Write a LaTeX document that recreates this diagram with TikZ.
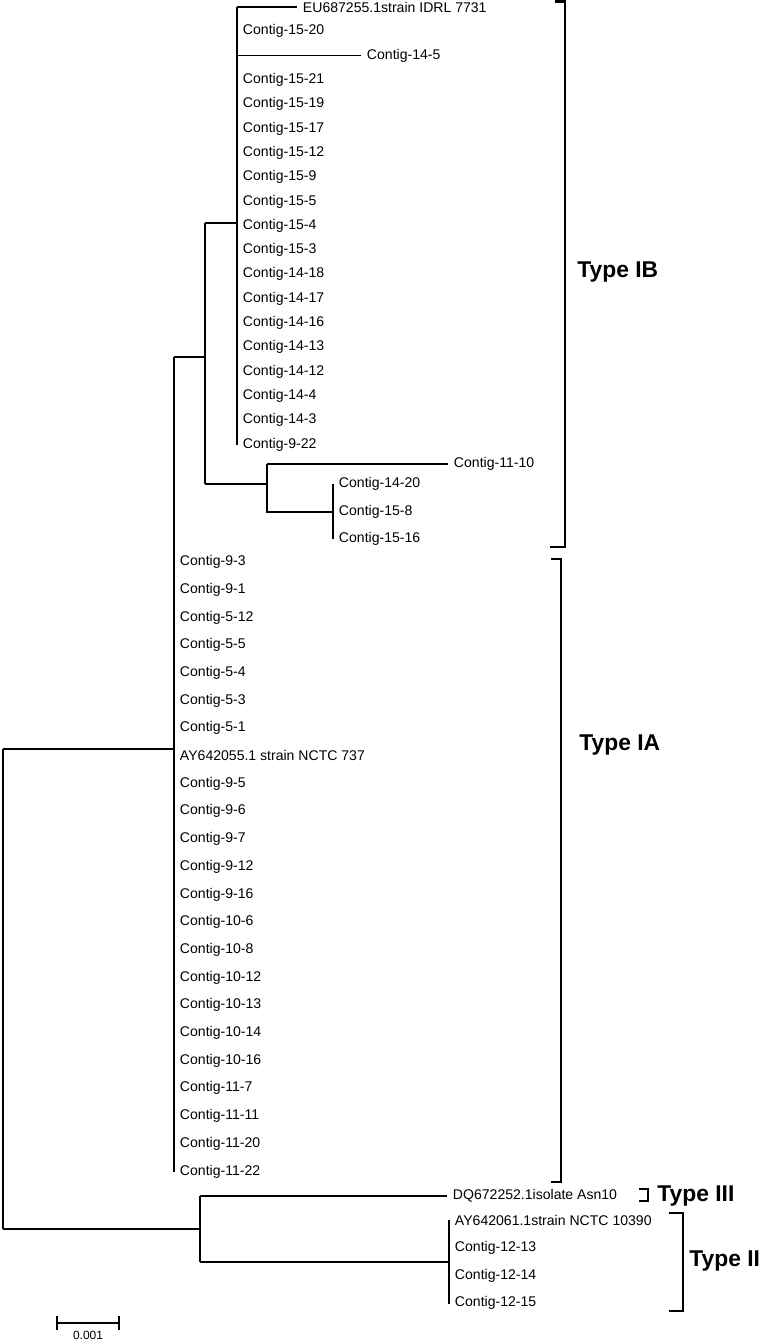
\documentclass[tikz,border=0pt]{standalone}
\usepackage{fontspec}
\setmainfont{Liberation Sans}
\usetikzlibrary{positioning}

\tikzset{
  branch/.style={line width=0.7pt},
  clade/.style={line width=1.2pt},
  leaf/.style={anchor=west, inner sep=1pt, inner xsep=3.2pt, font=\fontsize{8}{9}\selectfont},
  typelab/.style={anchor=west, inner sep=0pt, font=\fontsize{13}{15}\selectfont\bfseries},
}

\begin{document}
\begin{tikzpicture}[x=0.02cm, y=-0.02cm]
	\useasboundingbox (0,0) rectangle (761,1341);
	
	%row spacing of the two halves of the tree
	\pgfmathsetmacro{\rowb}{24.3}
	\pgfmathsetmacro{\rowa}{27.7}
	
	\begin{scope}
		% Type IB
		\coordinate (ibtop) at (237,7);
		\coordinate (ibbot) at (237,445);
		\draw[clade] (ibtop) -- (ibbot);
		\node[leaf] (eu) at (297,7) {EU687255.1strain IDRL 7731};
		\node[leaf] (c14-5) at (361,{7+2*\rowb}) {Contig-14-5};
		\draw[branch] (ibtop) -- (eu.west);
		\draw[branch] (237,{7+2*\rowb}) -- (c14-5.west);
		\foreach \n/\i in {15-20/1, 15-21/3, 15-19/4, 15-17/5, 15-12/6, 15-9/7, 15-5/8, 15-4/9, 15-3/10,
			14-18/11, 14-17/12, 14-16/13, 14-13/14, 14-12/15, 14-4/16, 14-3/17, 9-22/18}
		\node[leaf] (c\n) at (237,{7+\rowb*\i}) {Contig-\n};
		
		\coordinate (nib) at (205,357);
		\coordinate (nsub) at (267,484);
		\coordinate (nclu) at (333,512);
		\draw[branch] (205,223) -- (237,223);
		\draw[branch] (205,223) -- (205,484);
		\draw[clade] (205,484) -- (nsub);
		\node[leaf] (c11-10) at (448,464) {Contig-11-10};
		\draw[branch] (267,464) -- (c11-10.west);
		\draw[branch] (267,464) -- (267,512) -- (nclu);
		\draw[clade] (333,484) -- (333,539);
		\foreach \n/\y in {14-20/484, 15-8/512, 15-16/539}
		\node[leaf] (c\n) at (333,\y) {Contig-\n};
	\end{scope}
	
	\begin{scope}
		% Type IA
		\draw[clade] (174,357) -- (174,1172);
		\draw[clade] (174,357) -- (nib);
		\foreach \lab [count=\i from 0] in {Contig-9-3, Contig-9-1, Contig-5-12, Contig-5-5, Contig-5-4,
			Contig-5-3, Contig-5-1, {AY642055.1 strain NCTC 737}, Contig-9-5, Contig-9-6, Contig-9-7,
			Contig-9-12, Contig-9-16, Contig-10-6, Contig-10-8, Contig-10-12, Contig-10-13, Contig-10-14,
			Contig-10-16, Contig-11-7, Contig-11-11, Contig-11-20, Contig-11-22}
		\node[leaf] (ia\i) at (174,{562+\rowa*\i}) {\lab};
	\end{scope}
	
	\begin{scope}
		% root, Type II and Type III
		\coordinate (root) at (3,1229);
		\coordinate (nII) at (200,1229);
		\draw[branch] (174,749) -- (3,749);
		\draw[clade] (3,749) -- (root);
		\draw[branch] (root) -- (nII);
		\draw[clade] (200,1196) -- (200,1262);
		\node[leaf] (dq) at (447,1196) {DQ672252.1isolate Asn10};
		\draw[branch] (200,1196) -- (dq.west);
		\draw[clade] (200,1262) -- (449,1262);
		\draw[branch] (449,1220) -- (449,1304);
		\foreach \lab [count=\i from 0] in {{AY642061.1strain NCTC 10390}, Contig-12-13, Contig-12-14, Contig-12-15}
		\node[leaf] (ii\i) at (449,{1220+\rowa*\i}) {\lab};
	\end{scope}
	
	%brackets
	\draw[clade] (555,1.5) -- (565,1.5) -- (565,547) -- (550,547);
	\node[typelab] (tIB) at (577,272) {Type IB};
	\draw[branch] (551,559) -- (561,559) -- (561,1182) -- (551,1182);
	\node[typelab] (tIA) at (579,745) {Type IA};
	\draw[clade] (639,1189) -- (648,1189) -- (648,1201) -- (639,1201);
	\node[typelab] (tIII) at (657,1196) {Type III};
	\draw[clade] (669,1213) -- (683,1213) -- (683,1311) -- (669,1311);
	\node[typelab] (tII) at (689,1261) {Type II};
	
	%scale bar
	\draw[clade] (57,1323) -- (119,1323);
	\draw[clade] (57,1316) -- (57,1330);
	\draw[clade] (119,1316) -- (119,1330);
	\node[inner sep=0pt, font=\fontsize{6.8}{8}\selectfont] (sc) at (88,1335) {0.001};
	
\end{tikzpicture}
\end{document}
